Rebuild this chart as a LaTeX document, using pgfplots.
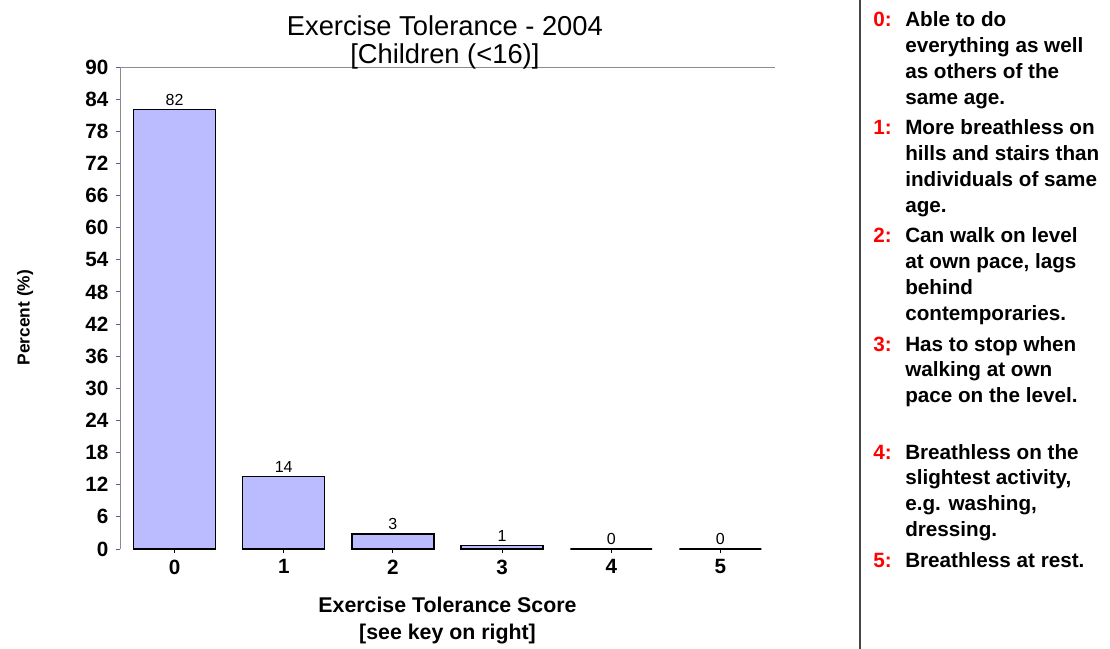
\documentclass[border=0pt]{standalone}
\usepackage{pgfplots}
\pgfplotsset{compat=1.18}
\usepackage{fontspec}
\setmainfont{Liberation Sans}
\definecolor{barfill}{RGB}{187,187,255}
\definecolor{ytickc}{RGB}{80,90,160}
\definecolor{sepc}{RGB}{70,70,70}
\definecolor{axisgray}{RGB}{140,140,140}
\newcommand\legfont{\fontsize{15.5}{19.3}\selectfont\bfseries}
\newcommand\legitem[3]{%
  \node[anchor=base west, inner sep=0, text=red] at (873,#1) {\legfont #2};
  \node[anchor=base west, inner sep=0] at (905,#1) {\parbox[t]{200pt}{\legfont\raggedright #3}};
}
\pgfplotstableread{
x y
0 82.1
1 13.5
2 2.8
3 0.6
4 0
5 0
}\datatable
\begin{document}
\begin{tikzpicture}[x=0.75pt,y=-0.75pt]
\useasboundingbox (0,0) rectangle (1110,649);
\begin{axis}[
  at={(90pt,-411.75pt)}, anchor=south west,
  width=491.25pt, height=361.5pt, scale only axis,
  xmin=-0.5, xmax=5.5, ymin=0, ymax=90,
  xtick={0,...,5}, ytick={0,6,...,90},
  axis line style={draw=none},
  xtick pos=lower, ytick pos=lower,
  tick align=outside, major tick length=3pt,
  x tick style={black, line width=0.75pt},
  y tick style={ytickc, line width=0.75pt},
  ticklabel style={font=\fontsize{15.5}{17}\selectfont\bfseries},
  yticklabel style={xshift=-2.25pt},
  xticklabel style={yshift=-1.5pt},
  /pgf/number format/assume math mode=true,
  ybar, bar width=0.75,
  nodes near coords={\pgfmathprintnumber[fixed,precision=0]{\pgfplotspointmeta}},
  every node near coord/.append style={font=\fontsize{12}{14}\selectfont, text=black, inner sep=2.5pt},
  title={Exercise Tolerance - 2004\\{[Children (<16)]}},
  title style={at={(axis description cs:0.496,1.035)}, anchor=center, align=center, font=\fontsize{20.5}{21}\selectfont},
  xlabel={Exercise Tolerance Score\\{[see key on right]}},
  xlabel style={at={(axis description cs:0.5,-0.148)}, anchor=center, align=center, font=\fontsize{16}{20}\selectfont\bfseries},
  ylabel={Percent (\%)},
  ylabel style={at={(axis description cs:-0.145,0.48)}, anchor=center, font=\fontsize{13}{15}\selectfont\bfseries},
]
\addplot[fill=barfill, draw=black, line width=1pt] table[x=x,y=y] {\datatable};
\draw[axisgray, line width=0.9pt] (rel axis cs:0,0) -- (rel axis cs:0,1) -- (rel axis cs:1,1);
\end{axis}
\draw[sepc, line width=2.2pt] (860,0) -- (860,649);
\legitem{27}{0:}{Able to do\\everything as well\\as others of the\\same age.}
\legitem{135}{1:}{More breathless on\\hills and stairs than\\individuals of same\\age.}
\legitem{243}{2:}{Can walk on level\\at own pace, lags\\behind\\contemporaries.}
\legitem{351}{3:}{Has to stop when\\walking at own\\pace on the level.}
\legitem{459}{4:}{Breathless on the\\slightest activity,\\e.g. washing,\\dressing.}
\legitem{567}{5:}{Breathless at rest.}
\end{tikzpicture}
\end{document}
